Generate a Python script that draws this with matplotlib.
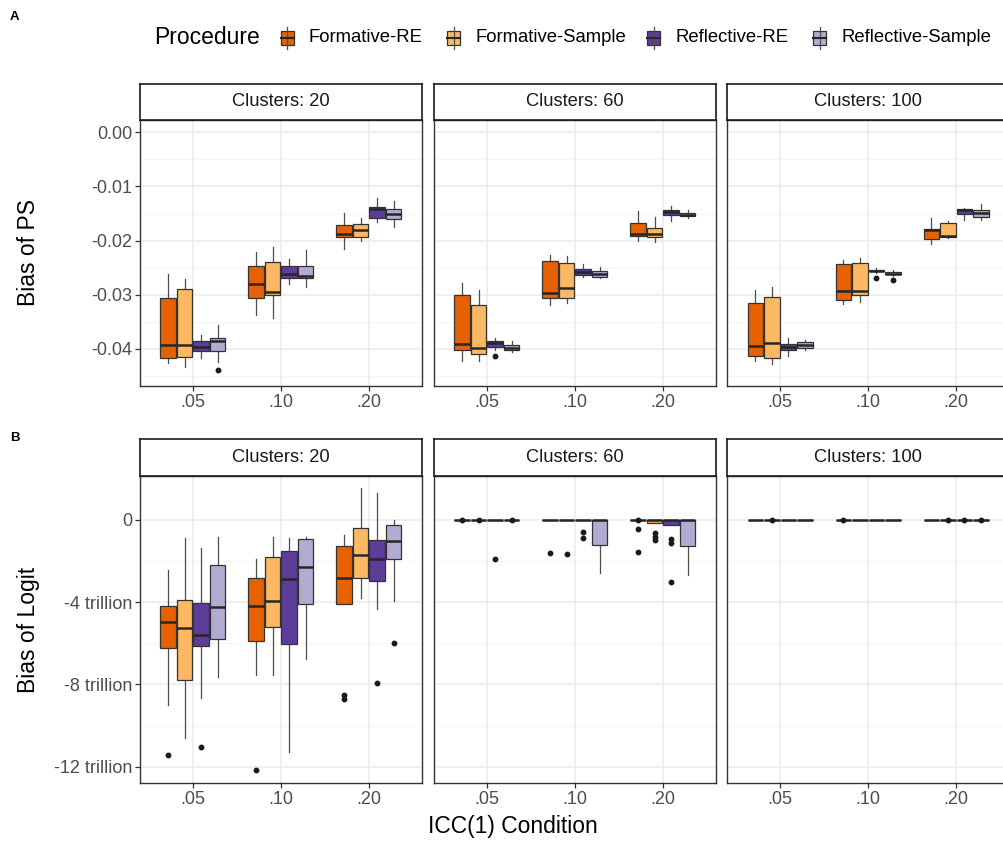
import matplotlib.pyplot as plt
from matplotlib.patches import Rectangle
from matplotlib.ticker import FixedLocator, FixedFormatter

plt.rcParams['font.family'] = ['Liberation Sans', 'DejaVu Sans']
plt.rcParams['axes.unicode_minus'] = False

procedures = ['Formative-RE', 'Formative-Sample', 'Reflective-RE', 'Reflective-Sample']
colors = ['#E66101', '#FDB863', '#5E3C99', '#B2ABD2']
icc_labels = ['.05', '.10', '.20']
clusters = ['Clusters: 20', 'Clusters: 60', 'Clusters: 100']

# box stats per panel: (whislo, q1, med, q3, whishi), ICC-major, procedure-minor
ps_c20 = [
    (-0.0426, -0.0417, -0.0394, -0.0306, -0.0262), (-0.0433, -0.0416, -0.0394, -0.0290, -0.0272),
    (-0.0417, -0.0404, -0.0396, -0.0386, -0.0375), (-0.0425, -0.0404, -0.0386, -0.0381, -0.0357),
    (-0.0337, -0.0306, -0.0280, -0.0247, -0.0221), (-0.0343, -0.0300, -0.0295, -0.0240, -0.0212),
    (-0.0280, -0.0270, -0.0262, -0.0247, -0.0234), (-0.0286, -0.0270, -0.0266, -0.0247, -0.0217),
    (-0.0215, -0.0194, -0.0188, -0.0172, -0.0149), (-0.0201, -0.0194, -0.0180, -0.0170, -0.0159),
    (-0.0165, -0.0158, -0.0142, -0.0138, -0.0122), (-0.0175, -0.0160, -0.0151, -0.0141, -0.0127),
]
ps_c20_out = [[], [], [], [-0.0440], [], [], [], [], [], [], [], []]

ps_c60 = [
    (-0.0423, -0.0402, -0.0391, -0.0301, -0.0278), (-0.0423, -0.0409, -0.0398, -0.0320, -0.0292),
    (-0.0403, -0.0397, -0.0389, -0.0386, -0.0381), (-0.0407, -0.0403, -0.0399, -0.0393, -0.0385),
    (-0.0319, -0.0306, -0.0297, -0.0238, -0.0227), (-0.0315, -0.0307, -0.0288, -0.0242, -0.0228),
    (-0.0267, -0.0263, -0.0258, -0.0252, -0.0244), (-0.0270, -0.0268, -0.0262, -0.0256, -0.0249),
    (-0.0201, -0.0192, -0.0187, -0.0167, -0.0146), (-0.0202, -0.0194, -0.0187, -0.0177, -0.0157),
    (-0.0163, -0.0152, -0.0148, -0.0144, -0.0136), (-0.0159, -0.0155, -0.0152, -0.0149, -0.0144),
]
ps_c60_out = [[], [], [-0.0413], [], [], [], [], [], [], [], [], []]

ps_c100 = [
    (-0.0423, -0.0414, -0.0395, -0.0315, -0.0291), (-0.0428, -0.0417, -0.0390, -0.0304, -0.0286),
    (-0.0413, -0.0402, -0.0397, -0.0392, -0.0380), (-0.0403, -0.0399, -0.0394, -0.0387, -0.0383),
    (-0.0317, -0.0310, -0.0293, -0.0244, -0.0236), (-0.0314, -0.0301, -0.0294, -0.0241, -0.0232),
    (-0.0260, -0.0257, -0.0256, -0.0254, -0.0250), (-0.0265, -0.0262, -0.0261, -0.0259, -0.0255),
    (-0.0206, -0.0198, -0.0181, -0.0178, -0.0159), (-0.0196, -0.0193, -0.0191, -0.0168, -0.0164),
    (-0.0162, -0.0151, -0.0143, -0.0141, -0.0139), (-0.0162, -0.0156, -0.0149, -0.0144, -0.0133),
]
ps_c100_out = [[], [], [], [], [], [], [-0.0270], [-0.0273], [], [], [], []]

# logit bias in trillions
lg_c20 = [
    (-8.98, -6.25, -4.96, -4.21, -2.45), (-10.61, -7.79, -5.28, -3.91, -0.91),
    (-8.64, -6.15, -5.58, -4.06, -1.40), (-7.63, -5.80, -4.22, -2.22, -0.85),
    (-7.52, -5.87, -4.21, -2.82, -1.92), (-7.52, -5.22, -3.96, -1.81, -0.83),
    (-11.27, -6.02, -2.87, -1.53, -0.91), (-6.75, -4.09, -2.32, -0.96, -0.83),
    (-4.09, -4.09, -2.85, -1.27, -0.73), (-3.80, -2.82, -1.73, -0.41, 1.53),
    (-4.34, -2.98, -1.92, -0.99, 1.29), (-3.96, -1.92, -1.06, -0.24, 0.00),
]
lg_c20_out = [[-11.41], [], [-11.06], [], [-12.15], [], [], [], [-8.49, -8.72], [], [-7.92], [-6.00]]

lg_c60 = [
    (0, 0, 0, 0, 0), (0, 0, 0, 0, 0), (0, 0, 0, 0, 0), (0, 0, 0, 0, 0),
    (0, 0, 0, 0, 0), (0, 0, 0, 0, 0), (0, 0, 0, 0, 0), (-2.59, -1.22, 0, 0, 0),
    (0, 0, 0, 0, 0), (-0.18, -0.18, -0.03, 0, 0), (-0.26, -0.26, -0.03, 0, 0), (-2.71, -1.27, 0, 0, 0),
]
lg_c60_out = [[-0.005], [-0.005], [-1.89], [-0.005],
              [-1.60], [-1.66], [-0.59, -0.90], [],
              [-0.005, -0.47, -1.58], [-0.67, -0.83, -0.99], [-0.95, -1.11, -3.02], []]

lg_c100 = [(0, 0, 0, 0, 0)] * 12
lg_c100_out = [[], [-0.005], [], [],
               [-0.005], [], [], [],
               [], [-0.005], [-0.005], [-0.005]]

W, H = 1004, 842
fig = plt.figure(figsize=(W / 100, H / 100), dpi=100)


def frac(x0, y0, x1, y1):
    return [x0 / W, 1 - y1 / H, (x1 - x0) / W, (y1 - y0) / H]


panel_x = [(140, 421.7), (434, 715.7), (727.3, 1009)]
rows = [
    dict(top=120, bottom=386, strip=(84, 120), data=[ps_c20, ps_c60, ps_c100],
         out=[ps_c20_out, ps_c60_out, ps_c100_out], ylim=(-0.0469, 0.0023),
         major=[0.0, -0.01, -0.02, -0.03, -0.04], labels=['0.00', '-0.01', '-0.02', '-0.03', '-0.04'],
         minor=[-0.005, -0.015, -0.025, -0.035, -0.045], ylabel='Bias of PS'),
    dict(top=476, bottom=783.3, strip=(439.3, 476), data=[lg_c20, lg_c60, lg_c100],
         out=[lg_c20_out, lg_c60_out, lg_c100_out], ylim=(-12.8, 2.12),
         major=[0, -4, -8, -12], labels=['0', '-4 trillion', '-8 trillion', '-12 trillion'],
         minor=[2, -2, -6, -10], ylabel='Bias of Logit'),
]

offsets = [-0.281, -0.094, 0.094, 0.281]
edge = '#333333'

for r, row in enumerate(rows):
    for c in range(3):
        x0, x1 = panel_x[c]
        ax = fig.add_axes(frac(x0, row['top'], x1, row['bottom']))
        stats, positions = [], []
        for i, s in enumerate(row['data'][c]):
            stats.append(dict(whislo=s[0], q1=s[1], med=s[2], q3=s[3], whishi=s[4],
                              fliers=row['out'][c][i]))
            positions.append(1 + i // 4 + offsets[i % 4])
        bp = ax.bxp(stats, positions=positions, widths=0.175, patch_artist=True,
                    showcaps=False, showfliers=True,
                    boxprops=dict(edgecolor=edge, linewidth=0.9, zorder=3),
                    whiskerprops=dict(color='#4D4D4D', linewidth=0.9, zorder=2),
                    medianprops=dict(color='#262626', linewidth=1.8, zorder=4),
                    flierprops=dict(marker='o', markersize=3.2, markerfacecolor='#1A1A1A',
                                    markeredgecolor='#1A1A1A', linestyle='none', zorder=5))
        for i, patch in enumerate(bp['boxes']):
            patch.set_facecolor(colors[i % 4])
        ax.set_xlim(0.4, 3.6)
        ax.set_ylim(*row['ylim'])
        ax.set_xticks([1, 2, 3])
        ax.set_xticklabels(icc_labels)
        ax.yaxis.set_major_locator(FixedLocator(row['major']))
        ax.yaxis.set_minor_locator(FixedLocator(row['minor']))
        ax.grid(True, which='major', color='#EBEBEB', linewidth=1.1, zorder=0)
        ax.grid(True, which='minor', axis='y', color='#F2F2F2', linewidth=0.6, zorder=0)
        ax.set_axisbelow(True)
        for sp in ax.spines.values():
            sp.set_color(edge)
            sp.set_linewidth(1.0)
        ax.tick_params(axis='both', which='major', length=3.5, width=0.9, color=edge,
                       labelsize=13, labelcolor='#4D4D4D', pad=2)
        ax.tick_params(axis='y', which='minor', length=0)
        if c == 0:
            ax.yaxis.set_major_formatter(FixedFormatter(row['labels']))
            ax.set_ylabel(row['ylabel'], fontsize=16.5)
            ax.yaxis.set_label_coords((40 - x0) / (x1 - x0), 0.5)
        else:
            ax.tick_params(axis='y', which='major', length=0, labelleft=False)

        sy0, sy1 = row['strip']
        sax = fig.add_axes(frac(x0, sy0, x1, sy1))
        sax.set_xticks([])
        sax.set_yticks([])
        for sp in sax.spines.values():
            sp.set_color('#1A1A1A')
            sp.set_linewidth(1.2)
        sax.text(0.5, 0.5, clusters[c], ha='center', va='center', fontsize=13.2,
                 color='#1A1A1A', transform=sax.transAxes)

# overlay for legend and panel letters
ov = fig.add_axes([0, 0, 1, 1], zorder=10)
ov.set_xlim(0, W)
ov.set_ylim(H, 0)
ov.axis('off')
ov.patch.set_alpha(0)

ov.text(10, 17, 'A', fontsize=9.5, fontweight='bold', va='center', ha='left')
ov.text(10, 438, 'B', fontsize=9.5, fontweight='bold', va='center', ha='left')
ov.text(513, 827, 'ICC(1) Condition', fontsize=16.5, ha='center', va='center')

ov.text(154, 38, 'Procedure', fontsize=16.5, ha='left', va='center')
key_x = [287.5, 454, 654, 820]
for kx, col, name in zip(key_x, colors, procedures):
    ov.plot([kx, kx], [27, 49], color='#4D4D4D', linewidth=0.9)
    ov.add_patch(Rectangle((kx - 6.5, 31), 13, 14, facecolor=col, edgecolor=edge, linewidth=0.9))
    ov.plot([kx - 6.5, kx + 6.5], [38, 38], color='#262626', linewidth=1.5)
    ov.text(kx + 21.5, 38, name, fontsize=13.3, ha='left', va='center')

fig.savefig('out.png', dpi=100)
